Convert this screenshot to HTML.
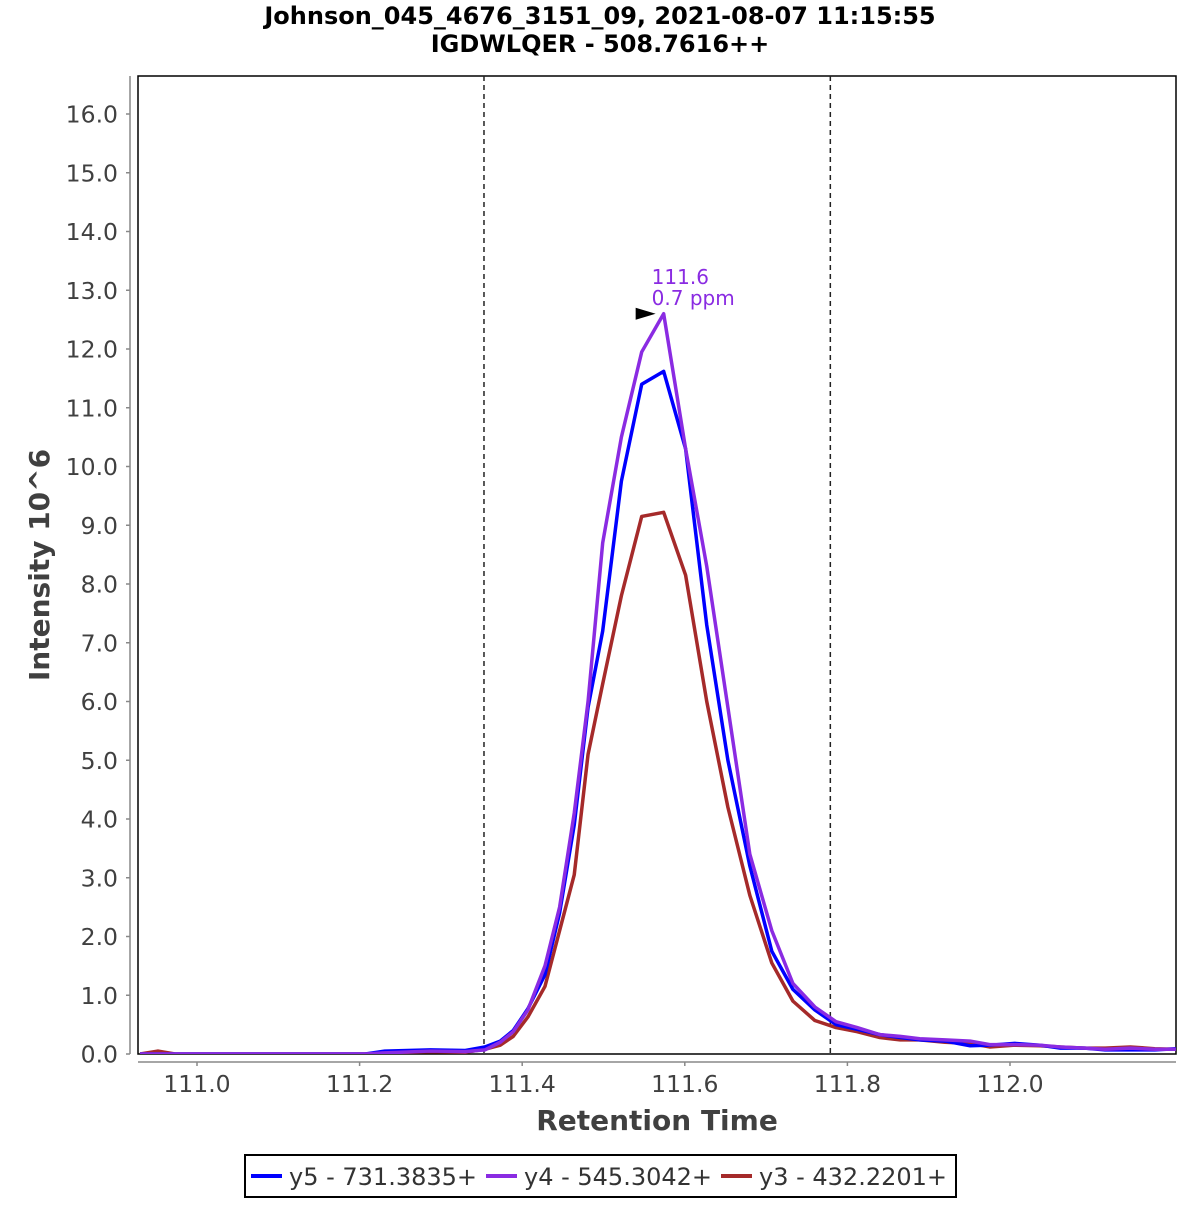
<!DOCTYPE html>
<html><head><meta charset="utf-8"><style>
body{margin:0;background:#fff}
svg text{font-family:"DejaVu Sans","Liberation Sans",sans-serif}
</style></head><body>
<svg id="chart" width="1200" height="1200" xmlns="http://www.w3.org/2000/svg">
<text x="600" y="24" text-anchor="middle" font-size="24" font-weight="bold">Johnson_045_4676_3151_09, 2021-08-07 11:15:55</text>
<text x="600" y="52" text-anchor="middle" font-size="24" font-weight="bold">IGDWLQER - 508.7616++</text>
<rect x="138" y="76" width="1038" height="978" fill="#fff" stroke="#000" stroke-width="1.5"/>
<g id="yaxis"></g>
<g id="xaxis"></g>
<g id="series"></g>
<text transform="translate(49,565) rotate(-90)" text-anchor="middle" font-size="28" font-weight="bold" fill="#404040">Intensity 10^6</text>
<text x="657" y="1130" text-anchor="middle" font-size="28" font-weight="bold" fill="#404040">Retention Time</text>
<g>
<rect x="245" y="1155" width="711" height="42" fill="#fff" stroke="#000" stroke-width="2"/>
<line x1="251" y1="1176" x2="282" y2="1176" stroke="#0000ff" stroke-width="4"/>
<text x="289" y="1185" font-size="24" fill="#333">y5 - 731.3835+</text>
<line x1="486" y1="1176" x2="517" y2="1176" stroke="#8a2be2" stroke-width="4"/>
<text x="524" y="1185" font-size="24" fill="#333">y4 - 545.3042+</text>
<line x1="721" y1="1176" x2="752" y2="1176" stroke="#a52a2a" stroke-width="4"/>
<text x="759" y="1185" font-size="24" fill="#333">y3 - 432.2201+</text>
</g>
</svg>
<script>
const times=[110.930,110.952,110.973,111.004,111.065,111.127,111.188,111.207,111.231,111.287,111.330,111.354,111.373,111.389,111.407,111.428,111.446,111.464,111.481,111.499,111.522,111.547,111.574,111.601,111.627,111.653,111.680,111.707,111.733,111.760,111.786,111.812,111.840,111.865,111.889,111.920,111.951,111.975,112.006,112.037,112.062,112.092,112.117,112.148,112.178,112.204];
const y5=[0,0,0,0,0,0,0,0,0.05,0.07,0.06,0.12,0.22,0.4,0.77,1.35,2.4,3.9,5.9,7.2,9.75,11.4,11.62,10.3,7.3,5.0,3.2,1.75,1.1,0.75,0.5,0.42,0.33,0.28,0.24,0.22,0.14,0.15,0.18,0.15,0.1,0.1,0.07,0.07,0.07,0.09];
const y4=[0,0,0,0,0,0,0,0,0.02,0.05,0.04,0.07,0.2,0.38,0.75,1.5,2.5,4.1,6.0,8.7,10.5,11.95,12.6,10.3,8.3,5.9,3.4,2.1,1.2,0.8,0.55,0.45,0.33,0.3,0.26,0.24,0.22,0.16,0.16,0.15,0.12,0.1,0.08,0.1,0.08,0.08];
const y3=[0,0.05,0,0,0,0,0,0,0.02,0.04,0.03,0.08,0.15,0.3,0.63,1.15,2.1,3.05,5.1,6.3,7.8,9.15,9.22,8.15,6.0,4.2,2.7,1.55,0.9,0.57,0.45,0.38,0.28,0.24,0.24,0.2,0.18,0.12,0.15,0.14,0.12,0.1,0.1,0.12,0.09,0.08];
const yTicks=[0,1,2,3,4,5,6,7,8,9,10,11,12,13,14,15,16];
const xTicks=[111.0,111.2,111.4,111.6,111.8,112.0];
const boundaries=[111.353,111.779];
const apexTime=111.574, apexValue=12.6;
const annotation=["111.6","0.7 ppm"];

const NS="http://www.w3.org/2000/svg";
const X=t=>197+(t-111)*813;
const Y=v=>1054-v*58.75;
function mk(tag,attrs,parent){const e=document.createElementNS(NS,tag);for(const k in attrs)e.setAttribute(k,attrs[k]);parent.appendChild(e);return e;}
const ya=document.getElementById('yaxis'),xa=document.getElementById('xaxis'),sg=document.getElementById('series');
mk('line',{x1:130,y1:76,x2:130,y2:1054,stroke:'#888','stroke-width':1.5},ya);
yTicks.forEach(v=>{
  const l=mk('line',{x1:126,y1:Y(v),x2:130,y2:Y(v),stroke:'#888','stroke-width':1.5},ya);
  
  
  const t=mk('text',{x:118,y:Y(v)+8.5,'text-anchor':'end','font-size':23.5,fill:'#404040'},ya);
  
  
  t.textContent=v.toFixed(1);
});
mk('line',{x1:138,y1:1062,x2:1176,y2:1062,stroke:'#888','stroke-width':1.5},xa);
xTicks.forEach(v=>{
  const l=mk('line',{x1:X(v),y1:1062,x2:X(v),y2:1066,stroke:'#888','stroke-width':1.5},xa);
  
  
  const t=mk('text',{x:X(v),y:1092,'text-anchor':'middle','font-size':23.5,fill:'#404040'},xa);
  
  
  t.textContent=v.toFixed(1);
});
const clip=mk('clipPath',{id:'pc'},sg);
mk('rect',{x:138,y:76,width:1038,height:978},clip);
boundaries.forEach(b=>{
  const l=mk('line',{x1:X(b),y1:76,x2:X(b),y2:1054,stroke:'#222','stroke-width':1.5,'stroke-dasharray':'5,4'},sg);
  
  
});
[[y3,'#a52a2a','series-y3'],[y5,'#0000ff','series-y5'],[y4,'#8a2be2','series-y4']].forEach(([d,c,n])=>{
  const p=mk('polyline',{points:times.map((t,i)=>X(t)+','+Y(d[i])).join(' '),fill:'none',stroke:c,'stroke-width':3.5,'stroke-linejoin':'round','clip-path':'url(#pc)'},sg);
  
  
});
const ax=X(apexTime),ay=Y(apexValue);
const arr=mk('polygon',{points:(ax-28)+','+(ay-6)+' '+(ax-8)+','+ay+' '+(ax-28)+','+(ay+6),fill:'#000'},sg);


annotation.forEach((s,i)=>{
  const t=mk('text',{x:ax-12,y:ay-30+i*21,'font-size':20,fill:'#8a2be2'},sg);
  
  
  t.textContent=s;
});
</script>
</body></html>
